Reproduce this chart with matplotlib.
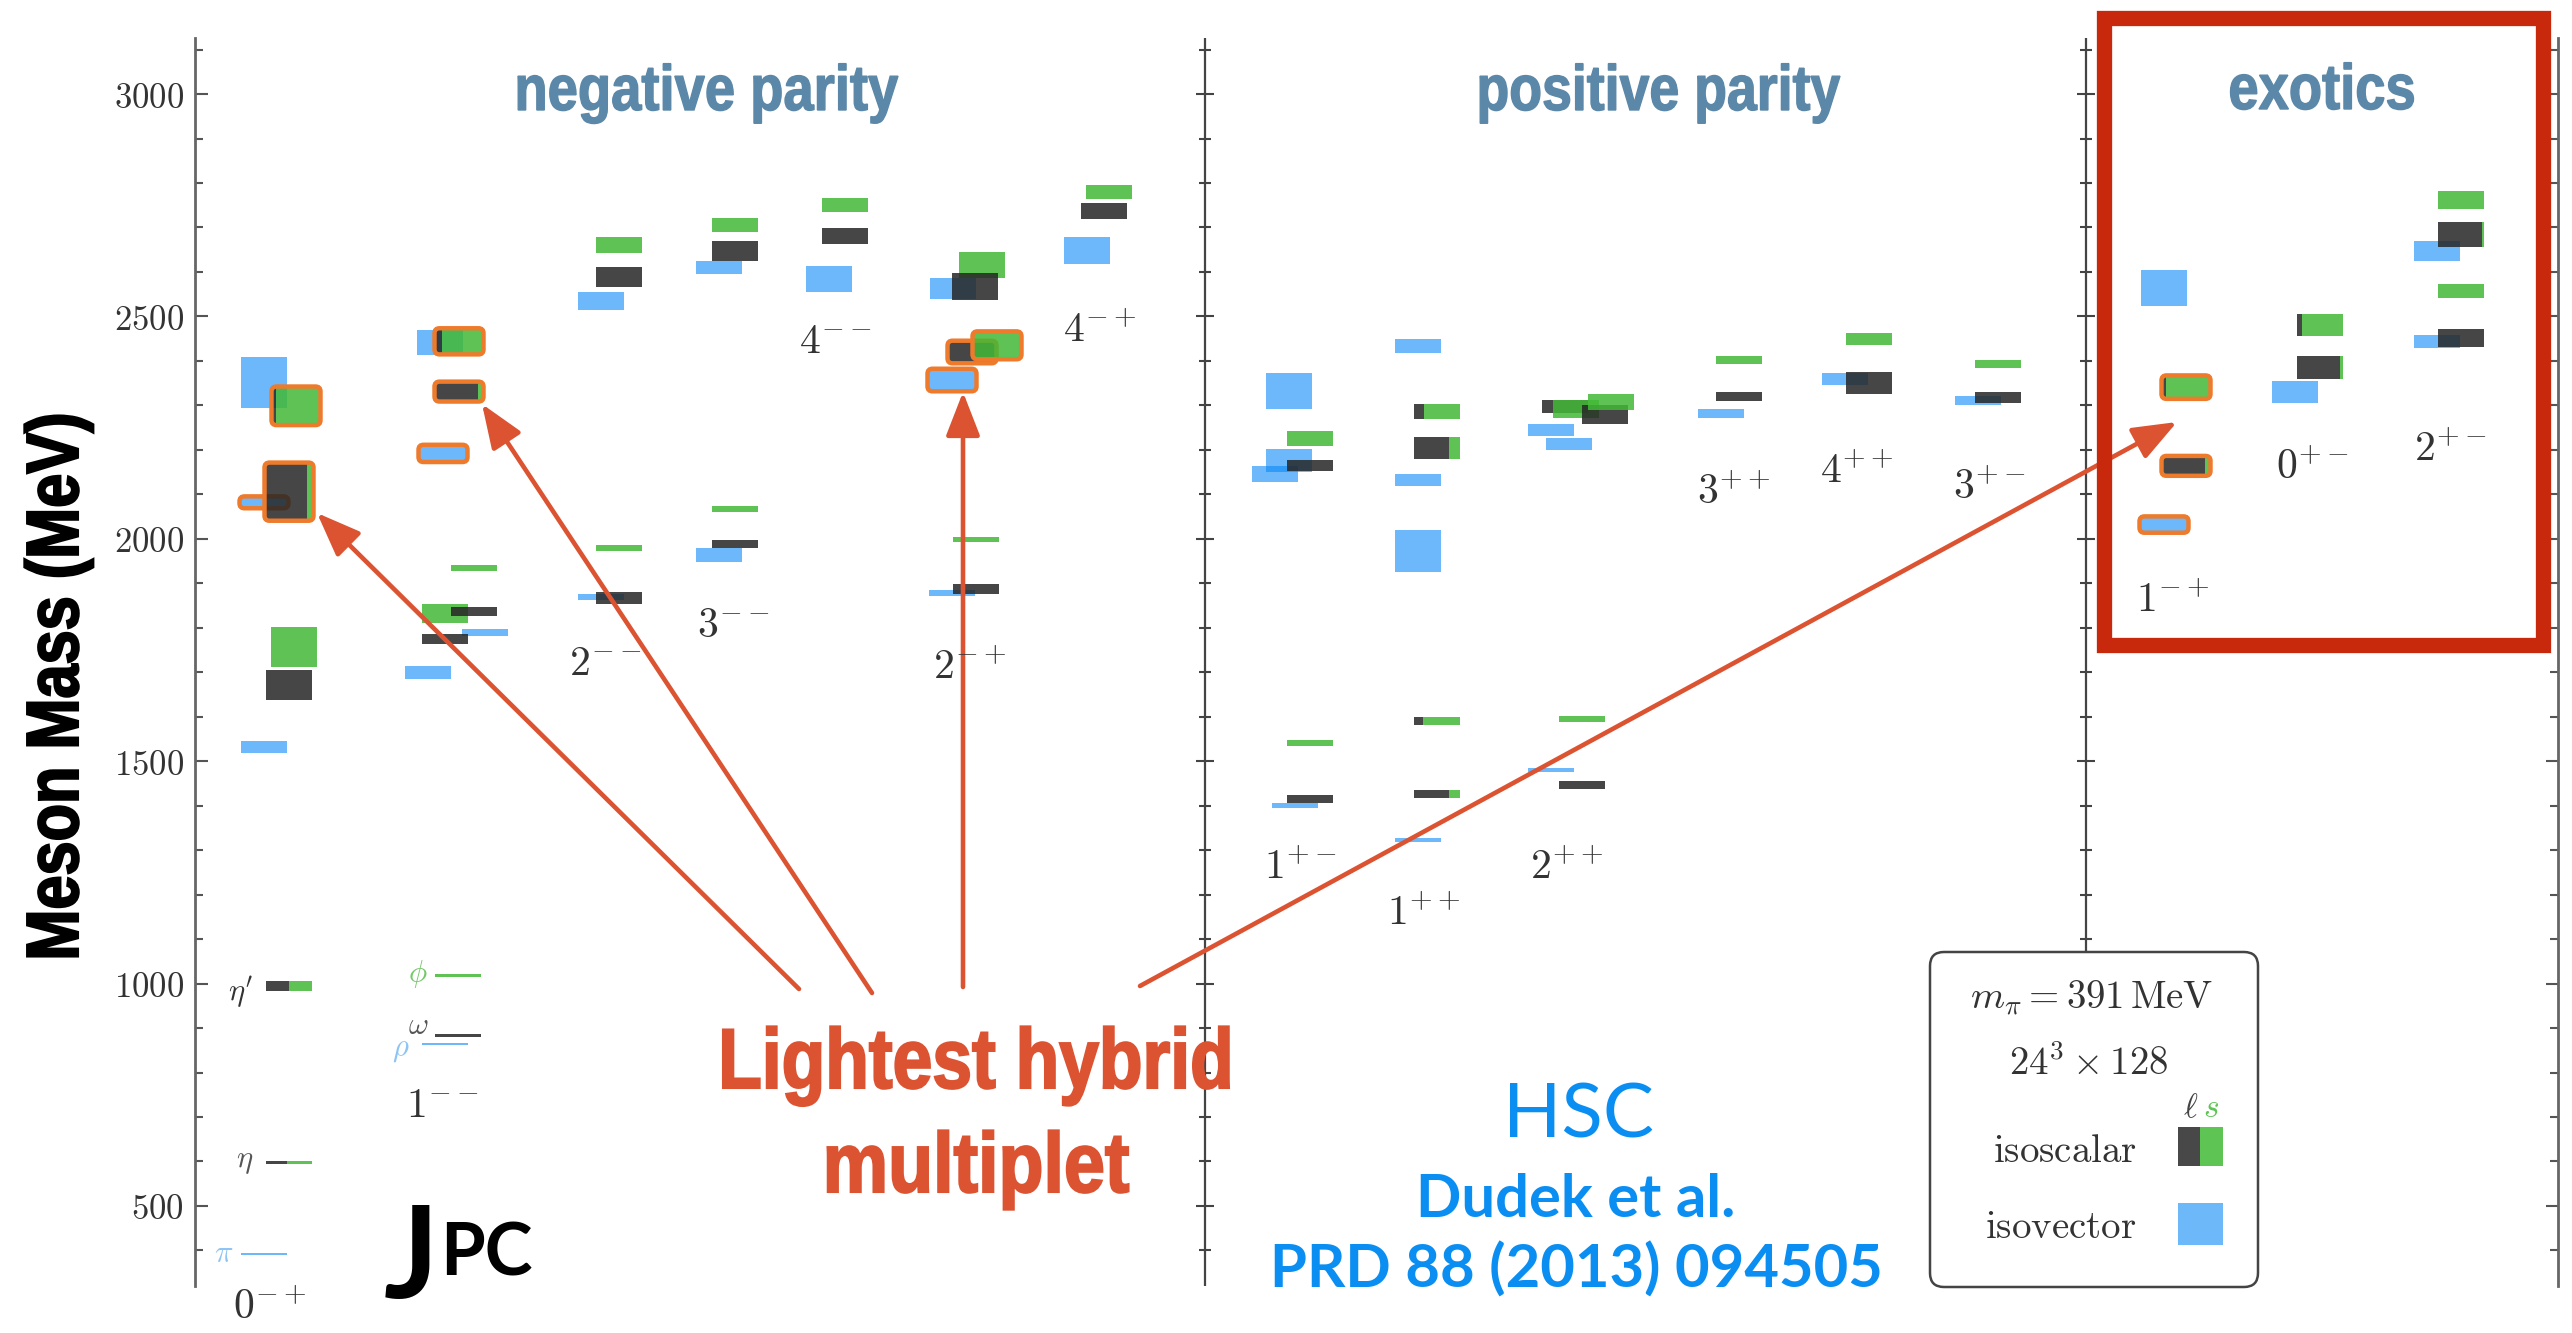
import matplotlib
matplotlib.use("Agg")
import matplotlib.pyplot as plt
from matplotlib.patches import FancyBboxPatch, Rectangle, PathPatch
from matplotlib.ticker import MultipleLocator, FuncFormatter
from matplotlib.transforms import Affine2D
from matplotlib.textpath import TextPath
from matplotlib.font_manager import FontProperties

plt.rcParams['mathtext.fontset'] = 'cm'

ROUND = ['Lato', 'DejaVu Sans']
HEAVY = FontProperties(family='Liberation Sans', weight='bold')

#------------------------------------------------------------------------------
# spectrum data, one list per J^PC channel
# (kind, mass MeV, half-width MeV, strange fraction, lightest-hybrid flag)
# kind 'v' = isovector, 's' = isoscalar (black = light, green = strange)

channels = ['0-+', '1--', '2--', '3--', '4--', '2-+', '4-+',
            '1+-', '1++', '2++', '3++', '4++', '3+-',
            '1-+', '0+-', '2+-']
jpc_tex = [r'$0^{-+}$', r'$1^{--}$', r'$2^{--}$', r'$3^{--}$', r'$4^{--}$', r'$2^{-+}$', r'$4^{-+}$',
           r'$1^{+-}$', r'$1^{++}$', r'$2^{++}$', r'$3^{++}$', r'$4^{++}$', r'$3^{+-}$',
           r'$1^{-+}$', r'$0^{+-}$', r'$2^{+-}$']

s_0mp = [('v', 2351, 57, 0, 0), ('v', 2082, 10, 0, 1), ('v', 1532, 13, 0, 0), ('v', 392, 3, 0, 0),
         ('s', 2299, 40, .93, 1), ('s', 2106, 62, .10, 1), ('s', 1757, 45, 1, 0),
         ('s', 1671, 34, 0, 0), ('s', 995, 11, .5, 0), ('s', 597, 3, .55, 0)]
s_1mm = [('v', 2441, 28, 0, 0), ('v', 2192, 16, 0, 1), ('v', 1790, 8, 0, 0), ('v', 1699, 15, 0, 0),
         ('v', 864, 3, 0, 0),
         ('s', 2444, 26, .88, 1), ('s', 2331, 19, .08, 1), ('s', 1934, 7, 1, 0), ('s', 1832, 21, 1, 0),
         ('s', 1837, 10, 0, 0), ('s', 1775, 11, 0, 0), ('s', 1018, 4, 1, 0), ('s', 883, 4, 0, 0)]
s_2mm = [('v', 2535, 21, 0, 0), ('v', 1869, 6, 0, 0),
         ('s', 2661, 18, 1, 0), ('s', 2589, 22, 0, 0), ('s', 1980, 7, 1, 0), ('s', 1867, 13, 0, 0)]
s_3mm = [('v', 2610, 15, 0, 0), ('v', 1964, 16, 0, 0),
         ('s', 2705, 16, 1, 0), ('s', 2647, 23, 0, 0), ('s', 2067, 7, 1, 0), ('s', 1988, 9, 0, 0)]
s_4mm = [('v', 2584, 30, 0, 0), ('s', 2750, 16, 1, 0), ('s', 2681, 18, 0, 0)]
s_2mp = [('v', 2563, 24, 0, 0), ('v', 2357, 22, 0, 1), ('v', 1878, 6, 0, 0),
         ('s', 2616, 29, 1, 0), ('s', 2567, 30, 0, 0), ('s', 2420, 22, 0, 1), ('s', 2435, 28, 1, 1),
         ('s', 1999, 6, 1, 0), ('s', 1887, 12, 0, 0)]
s_4mp = [('v', 2648, 30, 0, 0), ('s', 2780, 15, 1, 0), ('s', 2736, 18, 0, 0)]
s_1pm = [('v', 2332, 40, 0, 0), ('v', 2177, 26, 0, 0), ('v', 2145, 18, 0, 0), ('v', 1400, 5, 0, 0),
         ('s', 2226, 17, 1, 0), ('s', 2165, 13, 0, 0), ('s', 1541, 7, 1, 0), ('s', 1414, 9, 0, 0)]
s_1pp = [('v', 2434, 16, 0, 0), ('v', 2132, 14, 0, 0), ('v', 1973, 47, 0, 0), ('v', 1323, 5, 0, 0),
         ('s', 2287, 17, .78, 0), ('s', 2204, 24, .25, 0), ('s', 1590, 9, .81, 0), ('s', 1426, 9, .24, 0)]
s_2pp = [('v', 2245, 13, 0, 0), ('v', 2213, 13, 0, 0), ('v', 1480, 5, 0, 0),
         ('s', 2297, 15, 0, 0), ('s', 2292, 20, 1, 0), ('s', 2280, 21, 0, 0), ('s', 2308, 18, 1, 0),
         ('s', 1595, 6, 1, 0), ('s', 1447, 9, 0, 0)]
s_3pp = [('v', 2282, 10, 0, 0), ('s', 2402, 8, 1, 0), ('s', 2320, 10, 0, 0)]
s_4pp = [('v', 2359, 13, 0, 0), ('s', 2449, 14, 1, 0), ('s', 2350, 25, 0, 0)]
s_3pm = [('v', 2311, 10, 0, 0), ('s', 2392, 9, 1, 0), ('s', 2318, 12, 0, 0)]
s_1mp = [('v', 2564, 40, 0, 0), ('v', 2032, 15, 0, 1), ('s', 2341, 23, .93, 1), ('s', 2164, 19, .08, 1)]
s_0pm = [('v', 2330, 24, 0, 0), ('s', 2481, 24, .9, 0), ('s', 2385, 26, .07, 0)]
s_2pm = [('v', 2647, 23, 0, 0), ('v', 2444, 15, 0, 0),
         ('s', 2762, 20, 1, 0), ('s', 2685, 28, .04, 0), ('s', 2557, 16, 1, 0), ('s', 2451, 20, 0, 0)]

spectrum = [s_0mp, s_1mm, s_2mm, s_3mm, s_4mm, s_2mp, s_4mp,
            s_1pm, s_1pp, s_2pp, s_3pp, s_4pp, s_3pm,
            s_1mp, s_0pm, s_2pm]

#------------------------------------------------------------------------------
# layout: column positions, per-state sideways shifts, label spots (pixels)

W_PX, H_PX, DPI = 2572, 1333, 100
BOX_W = 46
chan_x = [266, 436, 596, 712, 822, 952, 1084, 1287, 1414, 1553, 1716, 1846, 1975, 2163, 2297, 2438]
shifts = [[-25, -25, -25, -25, 7, 0, 5, 0, 0, 0],
          [-19, -16, 26, -31, -14, 0, 0, 15, -14, 15, -14, -1, -1],
          [-18, -18, 0, 0, 0, 0],
          [-16, -16, 0, 0, 0, 0],
          [-16, 0, 0],
          [-22, -23, -23, 7, 0, -3, 22, 1, 1],
          [-20, 2, -3],
          [-21, -21, -35, -15, 0, 0, 0, 0],
          [-19, -19, -19, -19, 0, 0, 0, 0],
          [-25, -7, -25, -11, 0, 29, 35, 6, 6],
          [-18, 0, 0],
          [-24, 0, 0],
          [-20, 0, 0],
          [-22, -22, 0, 0],
          [-25, 0, 0],
          [-24, -24, 0, 0, 0, 0]]
jpc_pos = [(270, 1307), (442, 1105), (605, 663), (733, 625), (835, 341), (970, 667), (1100, 330),
           (1300, 867), (1424, 913), (1567, 867), (1734, 492), (1857, 471), (1989, 487),
           (2173, 600), (2312, 467), (2450, 449)]

particles = [r"$\eta'$", r'$\eta$', r'$\pi$', r'$\phi$', r'$\omega$', r'$\rho$']
particle_pos = [(253, 992), (253, 1162), (233, 1253), (428, 974), (428, 1025), (409, 1049)]
particle_col = ['#333333', '#555555', '#8cc4f5', '#74c868', '#555555', '#8cc4f5']

arrow_from = [(799, 989), (872, 993), (963, 987), (1140, 986)]
arrow_to = [(317, 513), (482, 404), (963, 392), (2177, 422)]

C_V = (10/255, 137/255, 247/255)
C_L = '#262626'
C_S = (66/255, 185/255, 54/255)
C_HL = '#ee7a2c'
C_ARROW = '#dc5332'
C_TITLE = '#5b88a8'
C_HSC = '#0a8ef2'
MEV_PER_PX = 2806 / 1248

#------------------------------------------------------------------------------

fig = plt.figure(figsize=(W_PX / DPI, H_PX / DPI), dpi=DPI)
pxT = Affine2D().scale(1 / DPI, -1 / DPI).translate(0, H_PX / DPI) + fig.dpi_scale_trans
dispT = Affine2D().scale(1 / DPI) + fig.dpi_scale_trans


def squeezed_text(x, y, s, em, width, color, rot=0, edge=1.0):
    # bold sans outline squeezed sideways to a given width, anchored at baseline centre
    tp = TextPath((0, 0), s, size=em, prop=HEAVY)
    ext = tp.get_extents()
    tr = (Affine2D().translate(-ext.x0 - ext.width / 2, 0).scale(width / ext.width, 1)
          .rotate_deg(rot).translate(x, H_PX - y) + dispT)
    fig.add_artist(PathPatch(tp, transform=tr, fc=color, ec=color, lw=edge, zorder=7))


ax = fig.add_axes([195 / W_PX, 1 - 1286 / H_PX, (2558 - 195) / W_PX, (1286 - 38) / H_PX])
ax.set_xlim(195, 2558)
ax.set_ylim(320, 3126)
for side in ['top', 'bottom']:
    ax.spines[side].set_visible(False)
for side in ['left', 'right']:
    ax.spines[side].set_color('#666666')
    ax.spines[side].set_linewidth(2)
ax.set_xticks([])
ax.yaxis.set_major_locator(MultipleLocator(500))
ax.yaxis.set_minor_locator(MultipleLocator(100))
ax.yaxis.set_major_formatter(FuncFormatter(lambda v, p: r'$%d$' % v))
ax.tick_params(axis='y', which='both', direction='in', left=True, right=True,
               color='#555555', labelcolor='#333333', labelsize=25, pad=8)
ax.tick_params(axis='y', which='major', length=9, width=1.5)
ax.tick_params(axis='y', which='minor', length=6, width=1.5)

# panel dividers with crossing ticks
majors = list(range(500, 3001, 500))
minors = [m for m in range(400, 3101, 100) if m % 500]
for xd in [1205, 2086]:
    ax.axvline(xd, color='#444444', lw=1.6, zorder=1)
    ax.plot([xd] * len(majors), majors, ls='none', marker='_', ms=13, mew=1.5, color='#444444', zorder=1)
    ax.plot([xd] * len(minors), minors, ls='none', marker='_', ms=9, mew=1.5, color='#444444', zorder=1)


def draw_state(x, kind, m, e, s, hyb):
    if kind == 'v':
        ax.bar(x, 2 * e, BOX_W, bottom=m - e, align='edge', color=C_V, alpha=0.6, lw=0, zorder=3)
    else:
        wl = BOX_W * (1 - s)
        if wl > 0:
            ax.bar(x, 2 * e, wl, bottom=m - e, align='edge', color=C_L, alpha=0.85, lw=0, zorder=3)
        if s > 0:
            ax.bar(x + wl, 2 * e, BOX_W - wl, bottom=m - e, align='edge', color=C_S, alpha=0.85,
                   lw=0, zorder=3)
    if hyb:
        ax.add_patch(FancyBboxPatch((x, m - e), BOX_W, 2 * e, boxstyle='round,pad=1.5,rounding_size=5',
                                    mutation_aspect=MEV_PER_PX, fill=False, ec=C_HL, lw=3.2, zorder=3))


for cx, states, dxs in zip(chan_x, spectrum, shifts):
    for (kind, m, e, s, hyb), dx in zip(states, dxs):
        draw_state(cx + dx, kind, m, e, s, hyb)

for lab, (lx, ly) in zip(jpc_tex, jpc_pos):
    fig.text(lx, ly, lab, transform=pxT, ha='center', va='center', fontsize=30, color='#333333')

for lab, (lx, ly), c in zip(particles, particle_pos, particle_col):
    fig.text(lx, ly, lab, transform=pxT, ha='right', va='center', fontsize=22, color=c)

# panel titles and axis label
squeezed_text(708, 110, 'negative parity', 64, 380, C_TITLE)
squeezed_text(1660, 110, 'positive parity', 64, 360, C_TITLE)
squeezed_text(2322, 109, 'exotics', 64, 183, C_TITLE)
squeezed_text(78, 686, 'Meson Mass (MeV)', 74, 541, 'black', rot=90, edge=1.5)

# arrows to the lightest hybrid states
for (x0, y0), (x1, y1) in zip(arrow_from, arrow_to):
    ax.annotate('', xy=(x1, y1), xytext=(x0, y0), xycoords=pxT, textcoords=pxT,
                arrowprops=dict(arrowstyle='-|>,head_length=0.9,head_width=0.35', color=C_ARROW,
                                lw=3.3, mutation_scale=30, shrinkA=0, shrinkB=0), zorder=6)
squeezed_text(976, 1088, 'Lightest hybrid', 85, 506, C_ARROW, edge=1.5)
squeezed_text(978, 1192, 'multiplet', 85, 301, C_ARROW, edge=1.5)

# J^PC marker
fig.text(384, 1298, 'J', transform=pxT, ha='left', va='baseline', fontsize=92,
         fontweight='bold', family=ROUND, color='black')
fig.text(440, 1276, 'PC', transform=pxT, ha='left', va='baseline', fontsize=52,
         fontweight='bold', family=ROUND, color='black')

# reference
fig.text(1578, 1137, 'HSC', transform=pxT, ha='center', va='baseline', fontsize=55,
         family=ROUND, color=C_HSC)
fig.text(1576, 1217, 'Dudek et al.', transform=pxT, ha='center', va='baseline', fontsize=43,
         fontweight='bold', family=ROUND, color=C_HSC)
fig.text(1576, 1288, 'PRD 88 (2013) 094505', transform=pxT, ha='center', va='baseline', fontsize=43,
         fontweight='bold', family=ROUND, color=C_HSC)

# legend box
fig.add_artist(FancyBboxPatch((1930, 952), 328, 335, boxstyle='round,pad=0,rounding_size=14',
                              transform=pxT, fc='white', ec='#444444', lw=1.8, zorder=8))
fig.add_artist(Rectangle((2178, 1127), 22, 39, transform=pxT, fc='#484848', ec='none', zorder=9))
fig.add_artist(Rectangle((2200, 1127), 23, 39, transform=pxT, fc='#5ec454', ec='none', zorder=9))
fig.add_artist(Rectangle((2178, 1203), 45, 42, transform=pxT, fc='#6cb8f8', ec='none', zorder=9))
legend_txt = [(2092, 1008, r'$m_\pi = 391\,\mathrm{MeV}$'), (2089, 1075, r'$24^3 \times 128$'),
              (2065, 1162, r'$\mathrm{isoscalar}$'), (2061, 1238, r'$\mathrm{isovector}$')]
for lx, ly, s in legend_txt:
    fig.text(lx, ly, s, transform=pxT, ha='center', va='baseline', fontsize=28, color='#333333', zorder=10)
fig.text(2191, 1117, r'$\ell$', transform=pxT, ha='center', va='baseline', fontsize=24, color='#444444', zorder=10)
fig.text(2211, 1117, r'$s$', transform=pxT, ha='center', va='baseline', fontsize=24, color='#5ec454', zorder=10)

# box round the exotics
fig.add_artist(Rectangle((2104, 18), 439, 627, transform=pxT, fill=False, ec='#c8280c', lw=11, zorder=11))

fig.savefig('out.png', dpi=DPI, facecolor='white')
